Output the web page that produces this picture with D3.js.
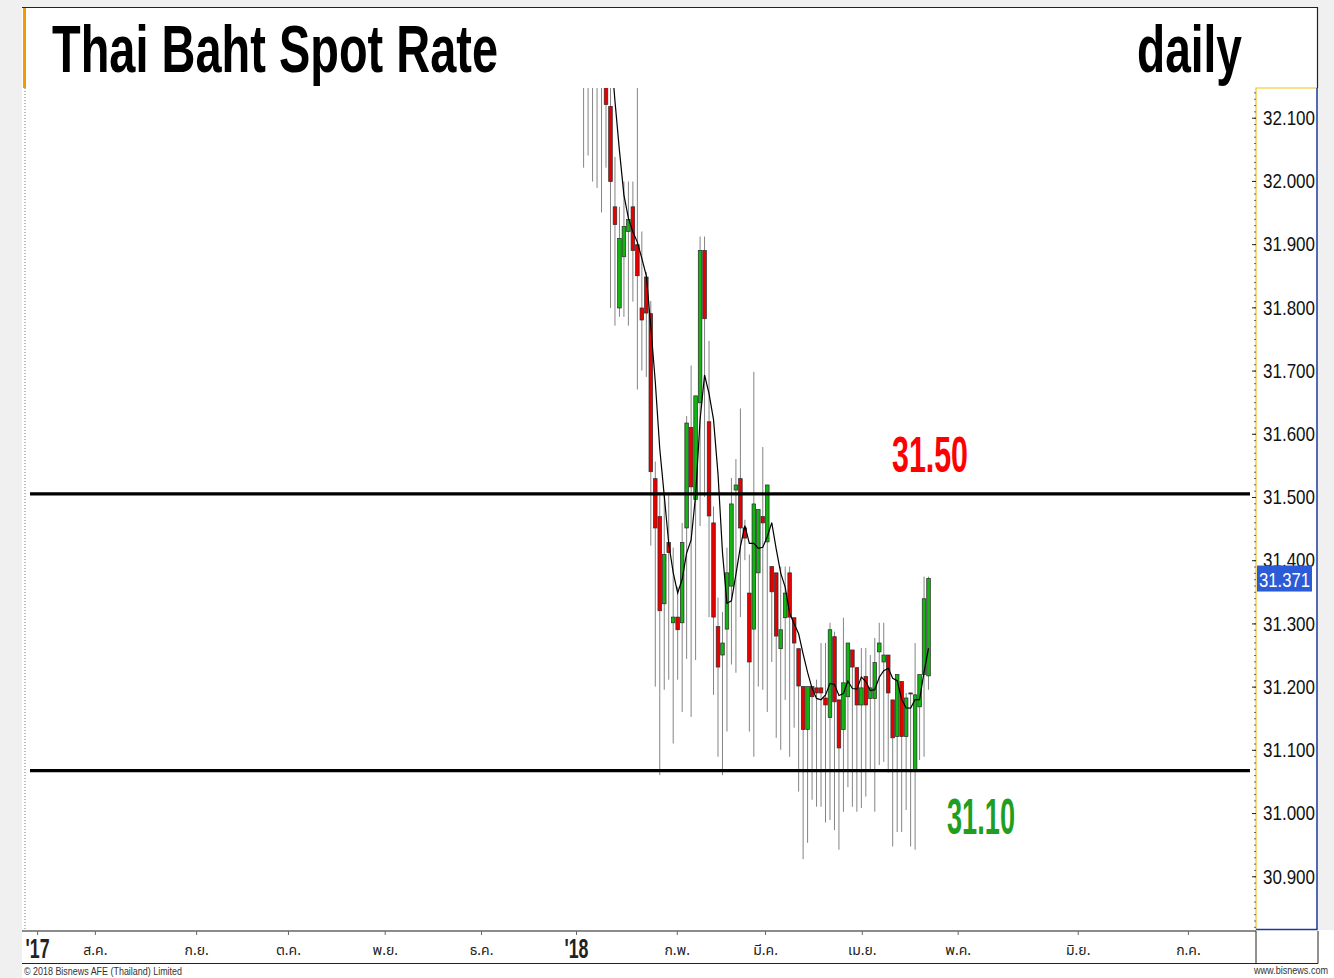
<!DOCTYPE html>
<html>
<head>
<meta charset="utf-8">
<script src="https://cdn.jsdelivr.net/npm/d3@7"></script>
<style>
  body { margin: 0; background: #f0f0f0; }
  svg { display: block; }
</style>
</head>
<body>
<svg id="chart" width="1334" height="978"></svg>
<script>
// daily candles, one per trading day from the first session of 2018
const opens = [
  32.50, 32.45, 32.40, 32.38, 32.30, 32.28, 32.118, 31.959, 31.799, 31.880,
  31.920, 31.959, 31.899, 31.799, 31.848, 31.790, 31.529, 31.469, 31.331, 31.428,
  31.301, 31.310, 31.301, 31.451, 31.610, 31.496, 31.649, 31.890, 31.619, 31.459,
  31.295, 31.250, 31.291, 31.359, 31.511, 31.529, 31.451, 31.348, 31.291, 31.380,
  31.469, 31.429, 31.390, 31.380, 31.260, 31.309, 31.380, 31.309, 31.260, 31.200,
  31.132, 31.200, 31.198, 31.198, 31.182, 31.151, 31.279, 31.179, 31.132, 31.184,
  31.258, 31.230, 31.171, 31.216, 31.181, 31.181, 31.255, 31.239, 31.250, 31.179,
  31.121, 31.208, 31.121, 31.190, 31.068, 31.168, 31.219, 31.217
];
const highs = [
  32.55, 32.48, 32.44, 32.40, 32.34, 32.30, 32.16, 32.038, 31.959, 31.999,
  31.999, 31.999, 32.16, 31.920, 31.856, 31.810, 31.556, 31.505, 31.505, 31.505,
  31.420, 31.358, 31.459, 31.628, 31.708, 31.660, 31.912, 31.912, 31.747, 31.485,
  31.341, 31.318, 31.420, 31.530, 31.560, 31.640, 31.464, 31.409, 31.698, 31.480,
  31.579, 31.519, 31.390, 31.380, 31.390, 31.390, 31.390, 31.309, 31.260, 31.200,
  31.200, 31.200, 31.211, 31.269, 31.269, 31.301, 31.287, 31.179, 31.309, 31.269,
  31.258, 31.230, 31.261, 31.261, 31.250, 31.277, 31.301, 31.301, 31.250, 31.179,
  31.219, 31.208, 31.190, 31.190, 31.269, 31.219, 31.374, 31.374
];
const lows = [
  32.021, 32.040, 31.999, 31.989, 31.950, 32.021, 31.799, 31.771, 31.785, 31.785,
  31.771, 31.809, 31.670, 31.700, 31.690, 31.423, 31.200, 31.060, 31.195, 31.211,
  31.110, 31.211, 31.160, 31.244, 31.152, 31.242, 31.454, 31.500, 31.310, 31.187,
  31.089, 31.060, 31.129, 31.235, 31.222, 31.310, 31.400, 31.129, 31.089, 31.200,
  31.195, 31.160, 31.239, 31.119, 31.100, 31.179, 31.089, 31.135, 31.034, 30.927,
  30.953, 31.021, 31.010, 31.010, 30.985, 30.989, 30.973, 30.942, 31.002, 31.041,
  31.010, 31.002, 31.008, 31.026, 31.065, 31.002, 31.076, 31.081, 31.064, 30.947,
  30.970, 30.970, 31.005, 30.947, 30.942, 31.084, 31.089, 31.195
];
const closes = [
  32.45, 32.40, 32.38, 32.30, 32.28, 32.121, 31.999, 31.931, 31.909, 31.928,
  31.939, 31.890, 31.850, 31.780, 31.791, 31.540, 31.451, 31.320, 31.409, 31.412,
  31.310, 31.290, 31.428, 31.617, 31.516, 31.660, 31.890, 31.782, 31.470, 31.310,
  31.231, 31.269, 31.380, 31.489, 31.519, 31.451, 31.435, 31.239, 31.489, 31.480,
  31.459, 31.519, 31.350, 31.280, 31.290, 31.348, 31.310, 31.269, 31.201, 31.132,
  31.200, 31.184, 31.190, 31.190, 31.171, 31.290, 31.176, 31.103, 31.206, 31.269,
  31.231, 31.171, 31.198, 31.171, 31.198, 31.238, 31.269, 31.250, 31.190, 31.119,
  31.219, 31.121, 31.182, 31.189, 31.187, 31.219, 31.339, 31.371
];

// price axis
const yTicks = [30.9, 31.0, 31.1, 31.2, 31.3, 31.4, 31.5, 31.6, 31.7, 31.8, 31.9, 32.0, 32.1];

// month marks, in trading-day units counted from the first candle
const monthLabels = ["'17", "ส.ค.", "ก.ย.", "ต.ค.", "พ.ย.", "ธ.ค.", "'18", "ก.พ.", "มี.ค.", "เม.ย.", "พ.ค.", "มิ.ย.", "ก.ค."];
const monthPos = [-122.0, -109.1, -86.5, -66.0, -44.4, -22.9, -1.7, 20.8, 40.5, 62.1, 83.5, 110.3, 134.9];

// support / resistance lines
const levels = [31.505, 31.067];
const levelLabels = ["31.50", "31.10"];
const levelColors = ["#ff0000", "#1f9e1f"];

const narrow = "'Liberation Sans', Arial, sans-serif";

const svg = d3.select("#chart");
const plot = { left: 25, right: 1256, top: 88, bottom: 930 };

const x = d3.scaleLinear().domain([-124.7, 150.1]).range([plot.left, plot.right]);
const y = d3.scaleLinear().domain([30.815, 32.147]).range([plot.bottom, plot.top]);

const candles = opens.map((o, i) => ({ i, o, h: highs[i], l: lows[i], c: closes[i] }));

// 5-day moving average of the closes
const ma = candles.filter(d => d.i >= 4).map(d => ({
  i: d.i,
  v: d3.mean(closes.slice(d.i - 4, d.i + 1))
}));

// ---- frame ----
svg.append("rect").attr("width", 1334).attr("height", 978).attr("fill", "#f0f0f0");
svg.append("rect").attr("x", 22).attr("y", 7).attr("width", 1295).attr("height", 923).attr("fill", "#fff");
svg.append("rect").attr("x", 22).attr("y", 930).attr("width", 1312).attr("height", 48).attr("fill", "#fff");
svg.append("path").attr("d", "M22,7.5H1317.5V88").attr("fill", "none").attr("stroke", "#222").attr("stroke-width", 1.2);
svg.append("rect").attr("x", 23).attr("y", 8).attr("width", 3).attr("height", 80).attr("fill", "#f39a00");

// right price panel
svg.append("path").attr("d", `M${plot.right},${plot.bottom}V${plot.top}H1317`)
  .attr("fill", "none").attr("stroke", "#f2c21b").attr("stroke-width", 1.2);
svg.append("path").attr("d", `M1317,${plot.top}V${plot.bottom - 0.5}H${plot.right}`)
  .attr("fill", "none").attr("stroke", "#1c3a9e").attr("stroke-width", 1.5);

// left dotted edge
svg.append("line").attr("x1", plot.left).attr("x2", plot.left).attr("y1", plot.top).attr("y2", plot.bottom)
  .attr("stroke", "#777").attr("stroke-dasharray", "1,2");

// ---- title ----
svg.append("text").attr("x", 52).attr("y", 72)
  .attr("font-family", narrow)
  .attr("font-weight", "bold").attr("font-size", 67)
  .attr("textLength", 446).attr("lengthAdjust", "spacingAndGlyphs")
  .text("Thai Baht Spot Rate");
svg.append("text").attr("x", 1242).attr("y", 72).attr("text-anchor", "end")
  .attr("font-family", narrow)
  .attr("font-weight", "bold").attr("font-size", 67)
  .attr("textLength", 105).attr("lengthAdjust", "spacingAndGlyphs")
  .text("daily");

// ---- price axis ----
svg.append("g").attr("transform", `translate(${plot.right},0)`)
  .call(d3.axisLeft(y).ticks(130).tickSize(2).tickFormat(""))
  .call(g => g.select(".domain").remove())
  .call(g => g.selectAll("line").attr("stroke", "#444").attr("stroke-width", 0.8));
svg.append("g").attr("transform", `translate(${plot.right},0)`)
  .call(d3.axisLeft(y).tickValues(yTicks).tickSize(4).tickFormat(""))
  .call(g => g.select(".domain").remove())
  .call(g => g.selectAll("line").attr("stroke", "#222"));
svg.append("g").attr("transform", `translate(${plot.right},0)`)
  .call(d3.axisRight(y).tickValues(yTicks).tickSize(0).tickFormat(d3.format(".3f")))
  .call(g => g.select(".domain").remove())
  .call(g => g.selectAll("text")
    .attr("x", 59).attr("text-anchor", "end").attr("fill", "#111")
    .attr("font-family", narrow)
    .attr("font-size", 21)
    .attr("textLength", 52).attr("lengthAdjust", "spacingAndGlyphs"));

// last price tag (sits over part of the 31.400 label, as in the original)
const last = closes[closes.length - 1];
svg.append("rect").attr("x", plot.right + 1).attr("y", y(last) - 13).attr("width", 55).attr("height", 26)
  .attr("fill", "#2b5bd6");
svg.append("text").attr("x", 1310).attr("y", y(last) + 8).attr("text-anchor", "end")
  .attr("fill", "#fff")
  .attr("font-family", narrow)
  .attr("font-size", 21).attr("textLength", 51).attr("lengthAdjust", "spacingAndGlyphs")
  .text(d3.format(".3f")(last));

// ---- time axis ----
svg.append("line").attr("x1", 22).attr("x2", plot.right).attr("y1", 931).attr("y2", 931)
  .attr("stroke", "#666").attr("stroke-width", 1.5);
svg.append("path").attr("d", `M22,963.5H1318V931M${plot.right},931V963`)
  .attr("fill", "none").attr("stroke", "#222");

const xAxis = svg.append("g").attr("transform", "translate(0,931)")
  .call(d3.axisBottom(x).tickValues(monthPos).tickSize(4).tickFormat((d, i) => monthLabels[i]));
xAxis.select(".domain").remove();
xAxis.selectAll("line").attr("stroke", "#666");
xAxis.selectAll("text")
  .attr("dy", 0)
  .attr("fill", "#222")
  .each(function (d, i) {
    const isYear = monthLabels[i].startsWith("'");
    d3.select(this)
      .attr("y", isYear ? 27 : 24)
      .attr("font-weight", isYear ? "bold" : "normal")
      .attr("font-size", isYear ? 27 : 14)
      .attr("font-family", isYear ? narrow : "Tahoma, 'Noto Sans Thai', 'Noto Sans', 'DejaVu Sans', sans-serif");
    if (isYear) d3.select(this).attr("textLength", 24).attr("lengthAdjust", "spacingAndGlyphs");
  });

// ---- footer ----
svg.append("text").attr("x", 24).attr("y", 975)
  .attr("font-family", narrow)
  .attr("font-size", 11).attr("fill", "#333")
  .attr("textLength", 158).attr("lengthAdjust", "spacingAndGlyphs")
  .text("© 2018 Bisnews AFE (Thailand) Limited");
svg.append("text").attr("x", 1328).attr("y", 974).attr("text-anchor", "end")
  .attr("font-family", narrow)
  .attr("font-size", 10).attr("fill", "#333")
  .attr("textLength", 74).attr("lengthAdjust", "spacingAndGlyphs")
  .text("www.bisnews.com");

// ---- plot ----
svg.append("clipPath").attr("id", "clip")
  .append("rect").attr("x", plot.left).attr("y", plot.top)
  .attr("width", plot.right - plot.left).attr("height", plot.bottom - plot.top);

const g = svg.append("g").attr("clip-path", "url(#clip)");

g.append("g").attr("class", "wicks")
  .selectAll("line")
  .data(candles)
  .enter().append("line")
  .attr("x1", d => x(d.i)).attr("x2", d => x(d.i))
  .attr("y1", d => y(d.h)).attr("y2", d => y(d.l))
  .attr("stroke", "#848484").attr("stroke-width", 1);

g.append("g").attr("class", "bodies")
  .selectAll("rect")
  .data(candles)
  .enter().append("rect")
  .attr("x", d => x(d.i) - 1.8)
  .attr("width", 3.6)
  .attr("y", d => y(Math.max(d.o, d.c)))
  .attr("height", d => Math.max(1, Math.abs(y(d.o) - y(d.c))))
  .attr("fill", d => d.c >= d.o ? "#13b313" : "#e80000")
  .attr("stroke", "#2a2a2a").attr("stroke-width", 0.7);

g.append("path")
  .datum(ma)
  .attr("d", d3.line().x(d => x(d.i)).y(d => y(d.v)))
  .attr("fill", "none").attr("stroke", "#000").attr("stroke-width", 1.2);

// support / resistance
svg.append("g").selectAll("line")
  .data(levels)
  .enter().append("line")
  .attr("x1", 30).attr("x2", 1250)
  .attr("y1", d => y(d)).attr("y2", d => y(d))
  .attr("stroke", "#000").attr("stroke-width", 3.2);

const labelAt = [{ cx: 930, dy: -22 }, { cx: 981, dy: 63 }];
svg.append("g").selectAll("text")
  .data(levels)
  .enter().append("text")
  .attr("x", (d, i) => labelAt[i].cx)
  .attr("y", (d, i) => y(d) + labelAt[i].dy)
  .attr("text-anchor", "middle")
  .attr("fill", (d, i) => levelColors[i])
  .attr("font-family", narrow)
  .attr("font-weight", "bold").attr("font-size", 50)
  .attr("textLength", (d, i) => i === 0 ? 76 : 68).attr("lengthAdjust", "spacingAndGlyphs")
  .text((d, i) => levelLabels[i]);
</script>
</body>
</html>
